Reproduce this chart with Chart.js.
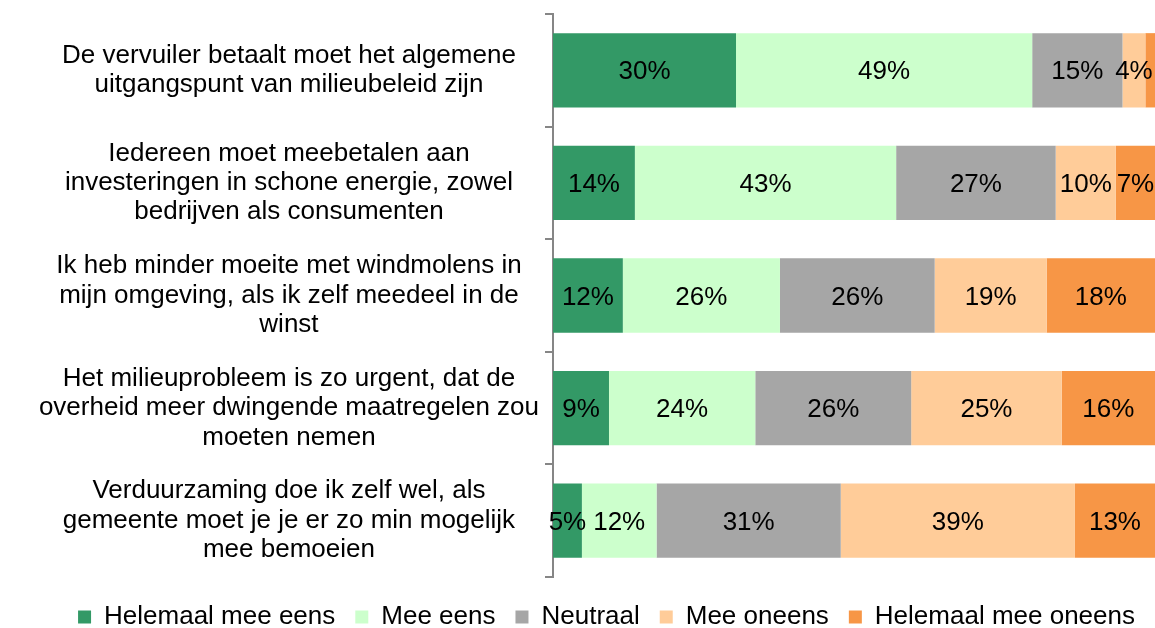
<!DOCTYPE html>
<html>
<head>
<meta charset="utf-8">
<script src="https://cdn.jsdelivr.net/npm/chart.js@4.4.0/dist/chart.umd.min.js"></script>
<style>
  html, body { margin: 0; padding: 0; background: #fff; }
  #wrap { width: 1155px; height: 628px; }
</style>
</head>
<body>
<div id="wrap"><canvas id="bars"></canvas></div>
<script>
// stellingen (y-as), elk als regels
const stellingen = [
  ['De vervuiler betaalt moet het algemene', 'uitgangspunt van milieubeleid zijn'],
  ['Iedereen moet meebetalen aan', 'investeringen in schone energie, zowel', 'bedrijven als consumenten'],
  ['Ik heb minder moeite met windmolens in', 'mijn omgeving, als ik zelf meedeel in de', 'winst'],
  ['Het milieuprobleem is zo urgent, dat de', 'overheid meer dwingende maatregelen zou', 'moeten nemen'],
  ['Verduurzaming doe ik zelf wel, als', 'gemeente moet je je er zo min mogelijk', 'mee bemoeien']
]

// percentages per antwoord, in volgorde van de stellingen
const helemaalEens = [30.4, 13.6, 11.6, 9.3, 4.8]
const meeEens = [49.2, 43.4, 26.1, 24.3, 12.4]
const neutraal = [15.0, 26.5, 25.7, 25.9, 30.6]
const meeOneens = [3.8, 10.0, 18.6, 25.0, 38.9]
const helemaalOneens = [1.6, 6.5, 18.0, 15.5, 13.3]

const fontFam = '"Liberation Sans", Arial, sans-serif'

// percentages midden in elk blok tekenen
const labelPlugin = {
  id: 'labelPlugin',
  afterDatasetsDraw: (chart) => {
    const c = chart.ctx
    c.save()
    c.font = '26px ' + fontFam
    c.fillStyle = '#000'
    c.textAlign = 'center'
    c.textBaseline = 'middle'
    chart.data.datasets.forEach((ds, i) => {
      chart.getDatasetMeta(i).data.forEach((bar, j) => {
        const v = ds.data[j]
        if (v < 3) return
        c.fillText(Math.round(v) + '%', (bar.x + bar.base) / 2, bar.y + 2)
      })
    })
    c.restore()
  }
}

const myChart = new Chart(document.getElementById('bars'), {
  type: 'bar',
  data: {
    labels: stellingen,
    datasets: [
      { label: 'Helemaal mee eens', data: helemaalEens, backgroundColor: '#339966' },
      { label: 'Mee eens', data: meeEens, backgroundColor: '#ccffcc' },
      { label: 'Neutraal', data: neutraal, backgroundColor: '#a6a6a6' },
      { label: 'Mee oneens', data: meeOneens, backgroundColor: '#ffcc99' },
      { label: 'Helemaal mee oneens', data: helemaalOneens, backgroundColor: '#f79646' }
    ]
  },
  options: {
    indexAxis: 'y',
    responsive: true,
    maintainAspectRatio: false,
    animation: false,
    events: [],
    layout: { padding: { top: 14, right: 0, left: 0, bottom: -12 } },
    datasets: { bar: { categoryPercentage: 1, barPercentage: 0.66, borderWidth: 0 } },
    scales: {
      x: { stacked: true, min: 0, max: 100, display: false },
      y: {
        stacked: true,
        border: { color: '#868686', width: 2 },
        grid: { offset: true, drawOnChartArea: false, tickLength: 8, color: '#868686', lineWidth: 2 },
        ticks: {
          crossAlign: 'center',
          padding: 6,
          color: '#000',
          font: { family: fontFam, size: 26, lineHeight: 1.13 }
        },
        afterFit: (scale) => {
          scale.width = 553
          scale.paddingTop = 0
          scale.paddingBottom = 0
        }
      }
    },
    plugins: {
      legend: {
        position: 'bottom',
        align: 'end',
        title: { display: true, text: '', padding: 0, font: { size: 7, lineHeight: 1 } },
        labels: {
          color: '#000',
          boxWidth: 13,
          boxHeight: 13,
          padding: 20,
          font: { family: fontFam, size: 26 }
        }
      },
      tooltip: { enabled: false }
    }
  },
  plugins: [labelPlugin]
})
</script>
</body>
</html>
